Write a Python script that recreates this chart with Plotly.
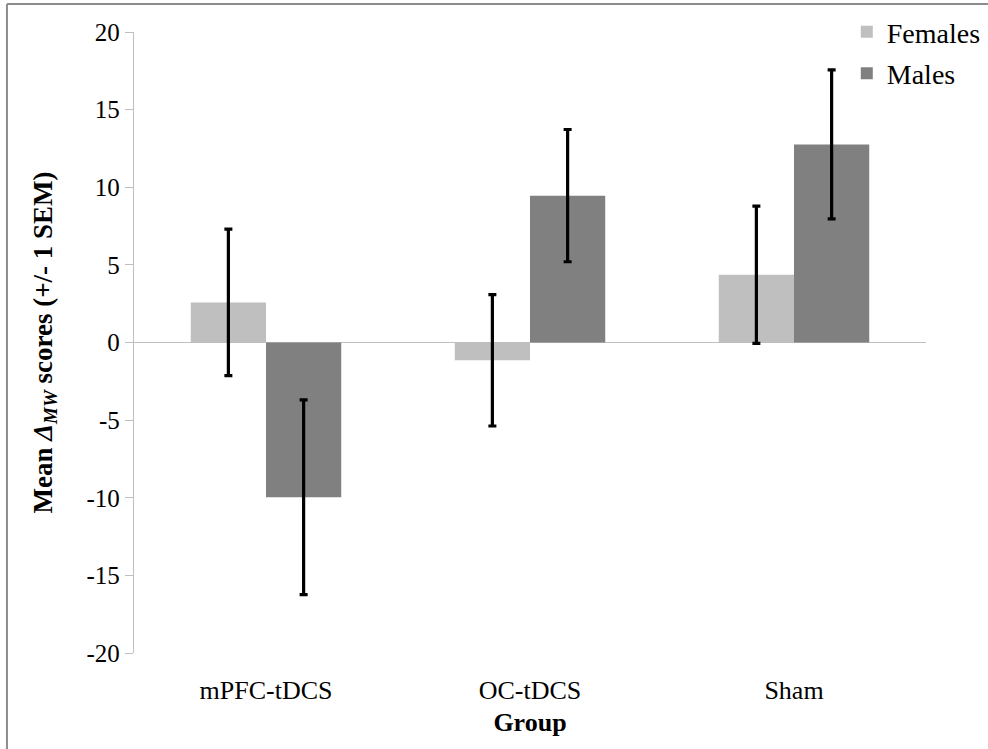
import plotly.graph_objects as go

groups = ["mPFC-tDCS", "OC-tDCS", "Sham"]
females = [2.58, -1.15, 4.37]
females_sem = [4.72, 4.23, 4.42]
males = [-9.97, 9.46, 12.76]
males_sem = [6.27, 4.26, 4.80]
y_ticks = [-20, -15, -10, -5, 0, 5, 10, 15, 20]
y_tick_text = [str(v) for v in y_ticks]

serif = "Liberation Serif"

err_style = dict(type="data", visible=True, color="black", thickness=3.2, width=4)

fig = go.Figure()
fig.add_trace(go.Bar(
    name="Females", x=groups, y=females, legendgroup="f",
    marker=dict(color="#BFBFBF", line=dict(width=0)),
    error_y=dict(array=females_sem, **err_style),
))
fig.add_trace(go.Bar(
    name="Males", x=groups, y=males, legendgroup="m",
    marker=dict(color="#808080", line=dict(width=0)),
    error_y=dict(array=males_sem, **err_style),
))

fig.update_layout(
    width=988, height=749,
    margin=dict(l=134, r=62, t=32, b=96, autoexpand=False),
    paper_bgcolor="white", plot_bgcolor="white",
    barmode="group", bargap=0.43, bargroupgap=0,
    font=dict(family=serif, size=25, color="black"),
    showlegend=True,
    legend=dict(
        x=0.9, y=1.04, xanchor="left", yanchor="top",
        font=dict(family=serif, size=28, color="black"),
        bgcolor="rgba(0,0,0,0)", itemwidth=30, tracegroupgap=2,
    ),
    xaxis=dict(
        showline=False, showgrid=False, ticks="outside", ticklen=0,
        ticklabelstandoff=14,
        tickfont=dict(family=serif, size=26),
        title=dict(text="<b>Group</b>", font=dict(family=serif, size=26), standoff=8),
    ),
    yaxis=dict(
        range=[-20, 20], tickvals=y_ticks, ticktext=y_tick_text, showgrid=False,
        showline=True, linecolor="#BFBFBF", linewidth=1.3,
        ticks="outside", ticklen=8, tickcolor="#BFBFBF", tickwidth=1.3,
        zeroline=True, zerolinecolor="#BFBFBF", zerolinewidth=1.3,
        tickfont=dict(family=serif, size=25),
        title=dict(
            text="<b>Mean <i>Δ<sub>MW</sub></i> scores (+/- 1 SEM)</b>",
            font=dict(family=serif, size=27), standoff=26,
        ),
    ),
    shapes=[
        dict(type="line", xref="paper", yref="paper",
             x0=-0.1604, x1=1.2, y0=1.045, y1=1.045,
             line=dict(color="#8C8C8C", width=2)),
        dict(type="line", xref="paper", yref="paper",
             x0=-0.1604, x1=-0.1604, y0=-0.3, y1=1.045,
             line=dict(color="#8C8C8C", width=2)),
    ],
)

fig.write_html("out.html")
